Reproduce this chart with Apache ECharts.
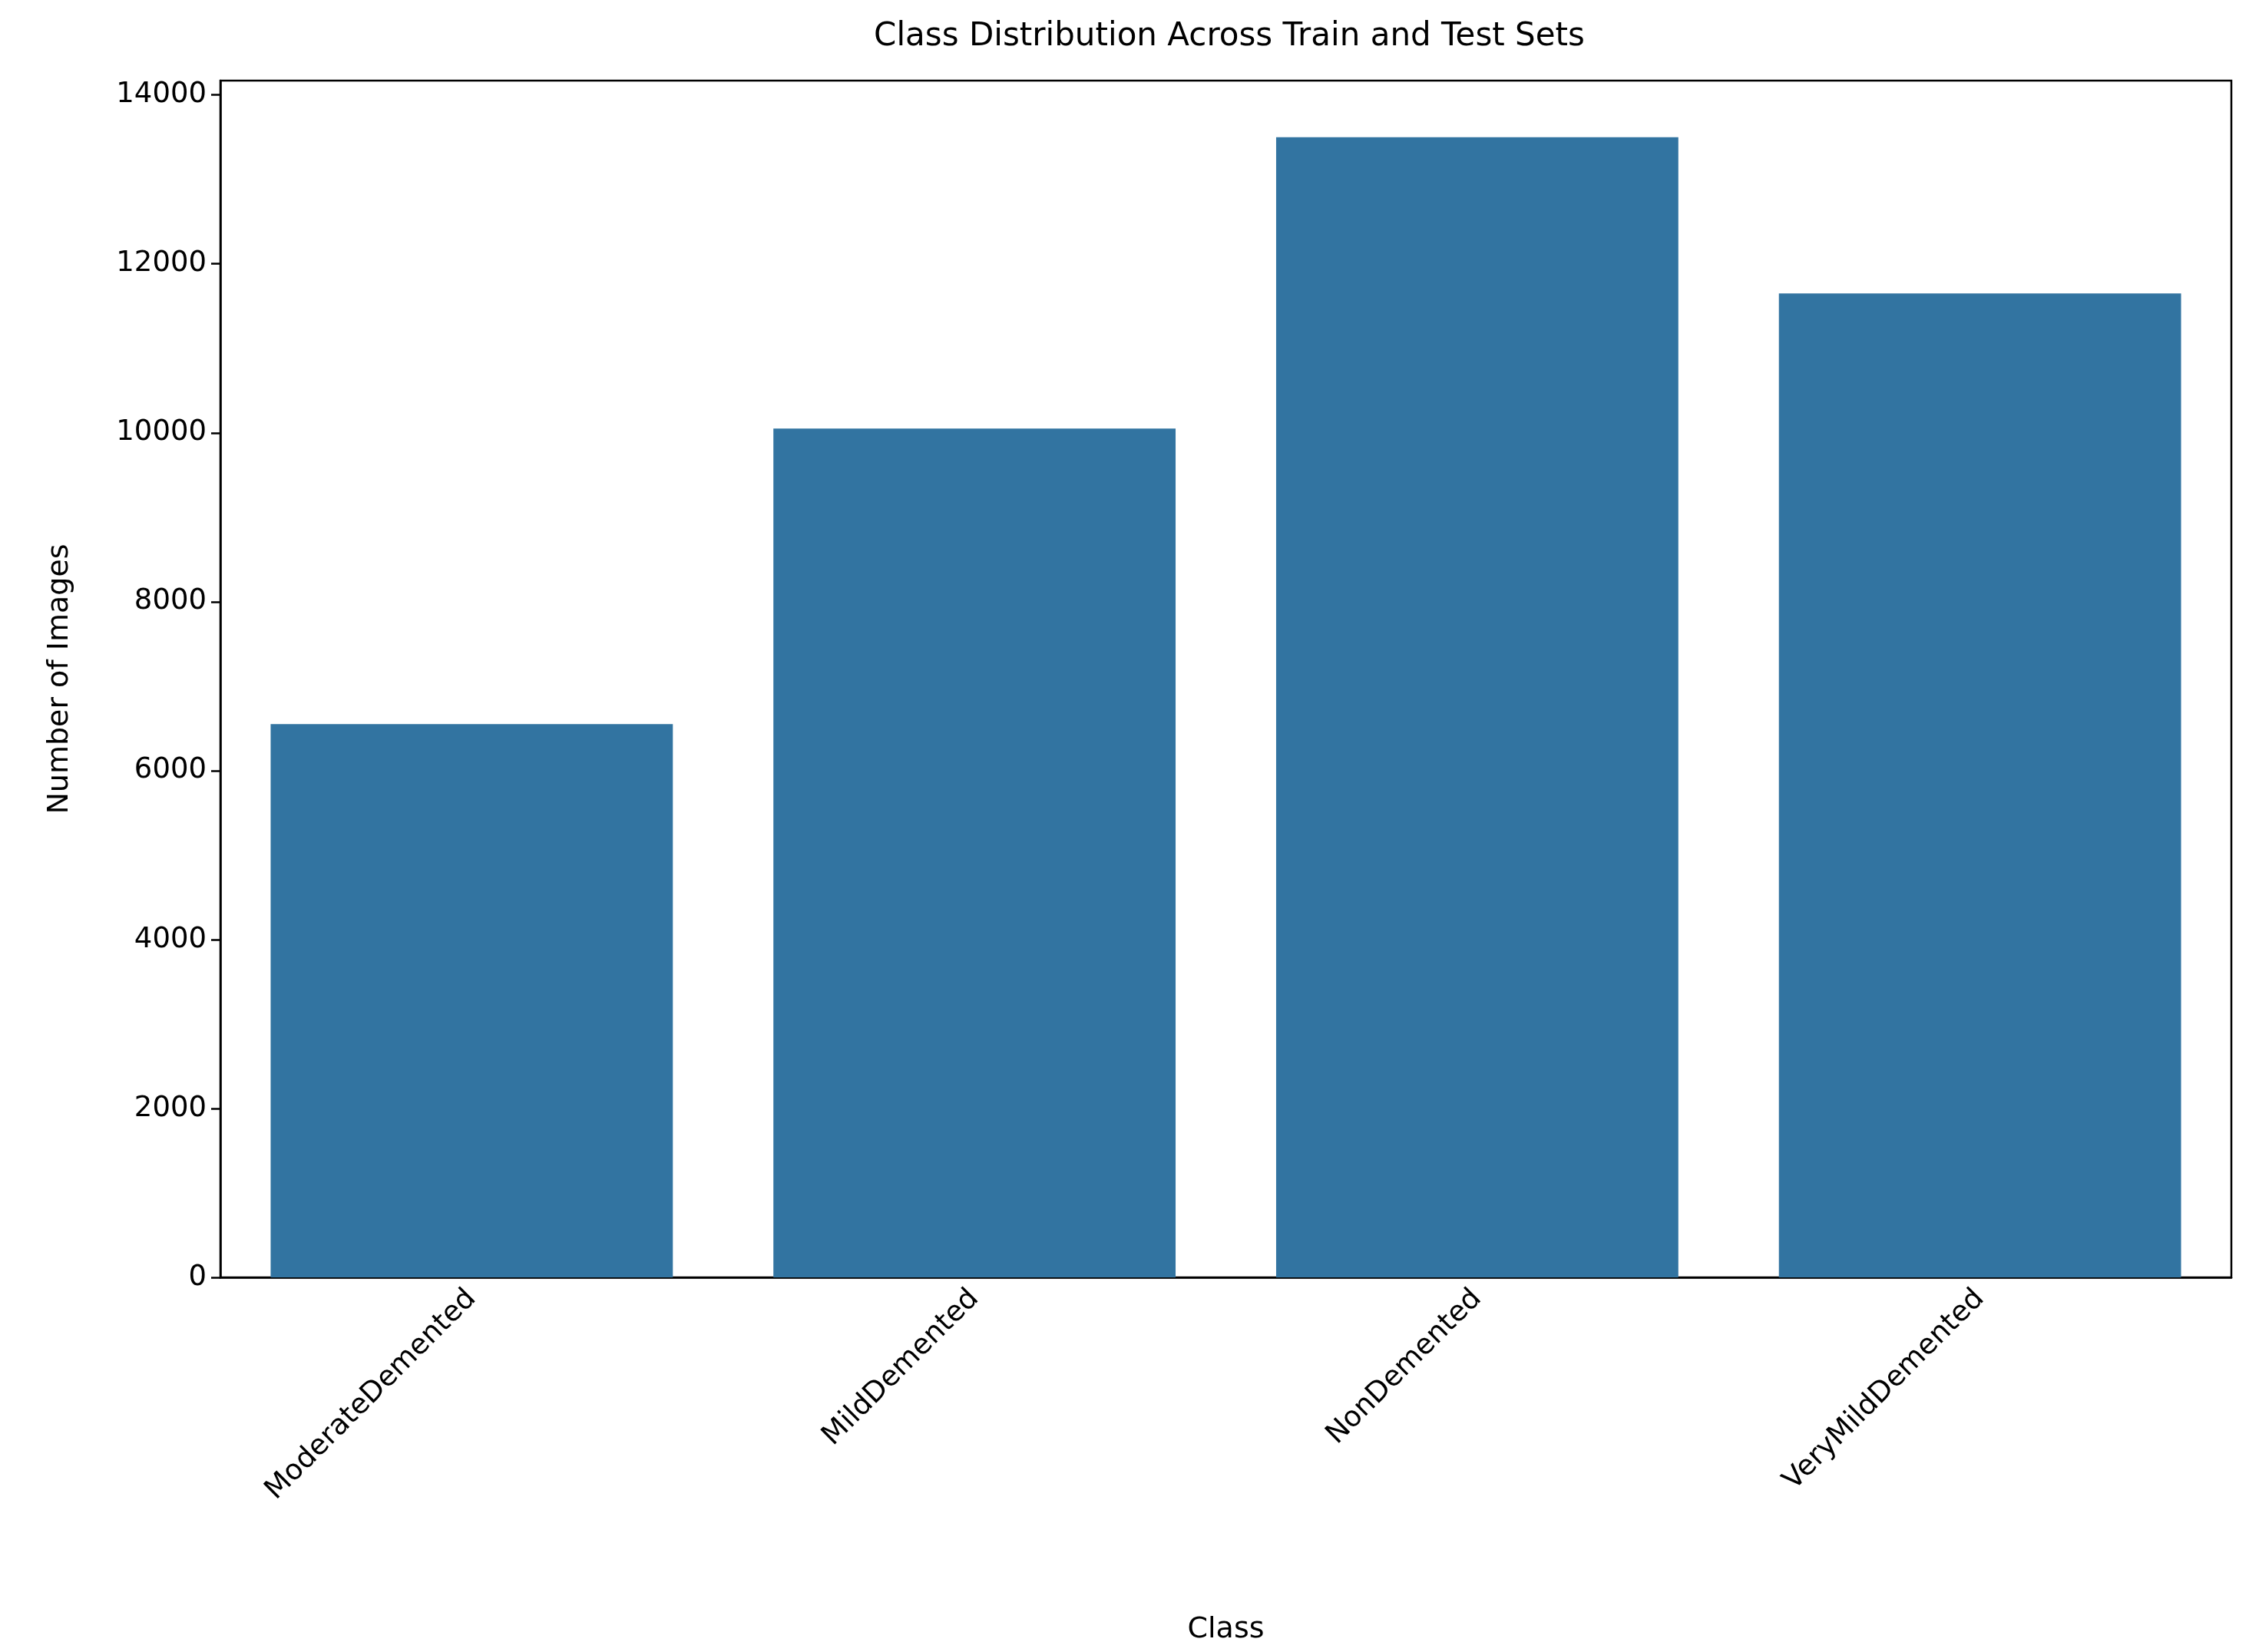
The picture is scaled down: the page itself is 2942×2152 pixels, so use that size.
<!DOCTYPE html>
<html><head><meta charset="utf-8">
<script src="https://cdn.jsdelivr.net/npm/echarts@6/dist/echarts.min.js"></script>
<style>html,body{margin:0;background:#fff}#c{width:2942px;height:2152px}</style>
</head><body><div id="c"></div>
<script>
const categories = ["ModerateDemented","MildDemented","NonDemented","VeryMildDemented"];
const counts = [6550, 10050, 13500, 11650];
const yTicks = [0,2000,4000,6000,8000,10000,12000,14000];
const font = "DejaVu Sans";
const chart = echarts.init(document.getElementById('c'));
chart.setOption({
  animation:false,
  title:{text:"Class Distribution Across Train and Test Sets",left:1596,top:22,textAlign:'center',
    textStyle:{fontFamily:font,fontSize:42,fontWeight:'normal',color:'#000'}},
  grid:{left:287,right:36,top:105,bottom:488},
  xAxis:{type:'category',data:categories,name:'Class',nameLocation:'middle',nameGap:440,
    nameTextStyle:{fontFamily:font,fontSize:38,color:'#000'},
    axisLine:{lineStyle:{color:'#000',width:2.5}},
    axisTick:{alignWithLabel:true,length:12,lineStyle:{color:'#000',width:2.5}},
    axisLabel:{rotate:45,fontFamily:font,fontSize:37,color:'#000',margin:22}},
  yAxis:{type:'value',min:0,max:14170,interval:2000,name:'Number of Images',nameLocation:'middle',nameGap:190,
    nameTextStyle:{fontFamily:font,fontSize:38,color:'#000'},
    axisLine:{show:true,lineStyle:{color:'#000',width:2.5}},
    axisTick:{show:true,length:12,lineStyle:{color:'#000',width:2.5}},
    splitLine:{show:false},
    axisLabel:{showMaxLabel:false,fontFamily:font,fontSize:37,color:'#000',margin:18,
      formatter:v=>yTicks.includes(v)?String(v):''}},
  series:[{type:'bar',data:counts,barCategoryGap:'20%',itemStyle:{color:'#3274a1'}}]
});
// top and right frame
chart.setOption({graphic:[{type:'rect',shape:{x:287,y:105,width:2942-287-36,height:2152-105-488},
  style:{fill:'none',stroke:'#000',lineWidth:2.5},silent:true}]});
</script></body></html>
